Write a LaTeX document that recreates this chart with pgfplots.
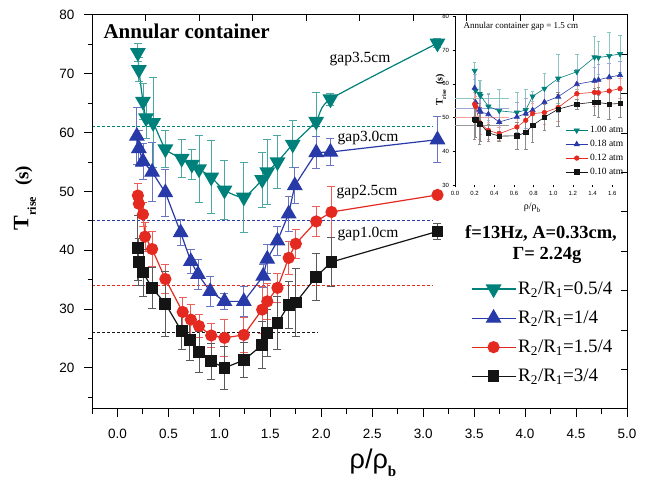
\documentclass[border=0pt]{standalone}
\usepackage{fontspec}
\setmainfont{Liberation Serif}
\newfontfamily\arial{Liberation Sans}
\usepackage{pgfplots}
\usepackage{pgfplotstable}
\pgfplotsset{compat=1.18}

\definecolor{cteal}{RGB}{0,128,122}
\definecolor{cblue}{RGB}{40,58,168}
\definecolor{cred}{RGB}{228,42,32}
\definecolor{cblk}{RGB}{20,20,20}

% main panel: x = rho/rho_b, y = T_rise (s), e = error
\pgfplotstableread{
x y e
0.20 73.6 1.5
0.21 70.7 2.0
0.25 65.3 3.0
0.28 62.5 3.5
0.35 61.7 7.7
0.47 57.2 3.2
0.63 55.6 3.2
0.73 54.6 2.5
0.80 53.8 5.7
0.92 52.4 6.2
1.05 50.2 5.0
1.24 49.0 6.0
1.42 52.0 4.7
1.47 53.3 5.5
1.57 55.0 4.5
1.72 58.0 4.0
1.95 61.9 5.0
2.09 65.7 1.0
3.14 75.2 0.8
}\gapA
\pgfplotstableread{
x y e
0.19 59.4 4.8
0.21 57.3 3.0
0.25 55.1 3.0
0.34 53.3 5.0
0.47 49.8 4.0
0.62 43.0 2.2
0.72 38.1 2.0
0.79 35.9 2.5
0.91 33.0 2.5
1.05 31.3 1.3
1.24 31.3 2.6
1.43 35.6 2.0
1.47 38.5 2.5
1.57 41.6 2.5
1.68 46.2 3.0
1.74 51.0 3.0
1.95 56.6 2.7
2.09 56.7 2.3
3.14 58.8 3.9
}\gapB
\pgfplotstableread{
x y e
0.20 49.3 2.0
0.21 47.9 2.0
0.25 46.1 2.0
0.27 42.3 2.5
0.34 40.2 3.0
0.47 35.1 2.5
0.64 29.5 2.5
0.72 28.2 2.5
0.80 27.1 2.0
0.92 25.5 2.0
1.05 25.1 3.2
1.24 25.6 3.0
1.42 29.9 4.0
1.47 31.3 3.0
1.57 33.6 2.5
1.68 38.7 2.8
1.75 41.1 2.5
1.95 44.9 2.5
2.10 46.5 4.4
3.14 49.4 0.5
}\gapC
\pgfplotstableread{
x y e
0.20 40.4 5.5
0.21 38.0 4.0
0.25 36.2 4.0
0.34 33.6 3.5
0.47 30.9 5.5
0.63 26.2 3.0
0.71 24.7 3.5
0.80 22.7 3.5
0.92 21.1 3.0
1.05 20.0 3.7
1.24 21.3 3.0
1.42 23.9 4.0
1.47 25.9 4.0
1.57 27.6 4.5
1.68 30.7 4.0
1.75 31.1 5.8
1.95 35.5 4.0
2.10 38.0 4.2
3.14 43.2 1.3
}\gapD

% inset: gap 1.5 cm at four pressures
\pgfplotstableread{
x y e
0.20 63.9 2.5
0.21 58.0 5.0
0.25 57.0 4.0
0.26 56.5 4.5
0.34 53.3 4.0
0.45 52.0 6.5
0.63 51.5 6.0
0.72 52.3 6.0
0.79 56.3 1.5
0.91 58.6 4.5
1.05 61.6 7.3
1.24 63.6 5.3
1.42 67.9 6.3
1.46 67.8 5.0
1.57 68.3 7.0
1.68 68.9 5.5
}\inA
\pgfplotstableread{
x y e
0.20 58.8 4.0
0.21 54.5 4.0
0.25 52.3 4.0
0.26 51.7 4.0
0.34 51.0 6.0
0.45 48.7 4.0
0.63 50.2 4.5
0.72 51.2 4.5
0.79 52.2 4.0
0.91 54.6 4.0
1.05 56.2 4.5
1.24 59.9 4.5
1.42 60.9 4.0
1.46 61.2 4.5
1.57 62.0 4.0
1.68 62.6 4.0
}\inB
\pgfplotstableread{
x y e
0.20 54.0 3.5
0.21 53.3 3.0
0.25 48.5 5.0
0.26 48.2 3.0
0.34 46.2 2.5
0.45 45.2 2.0
0.63 47.2 3.0
0.72 49.2 3.5
0.79 51.2 3.0
0.91 51.5 3.5
1.05 53.0 4.0
1.24 57.1 3.5
1.42 57.5 4.0
1.46 57.4 3.5
1.57 57.9 3.5
1.68 58.6 3.0
}\inC
\pgfplotstableread{
x y e
0.20 49.5 6.0
0.21 49.3 5.0
0.25 48.2 6.0
0.26 48.0 5.0
0.34 45.5 2.5
0.45 44.5 1.5
0.63 44.6 4.0
0.72 45.6 5.0
0.79 47.7 5.0
0.91 50.1 4.0
1.05 52.5 5.0
1.24 54.0 1.5
1.42 54.6 4.0
1.46 54.5 4.5
1.57 54.0 4.5
1.68 54.2 4.0
}\inD

\pgfplotsset{
  ebar/.style={error bars/.cd, y dir=both, y explicit,
    error bar style={line width=0.9pt, #1},
    error mark options={rotate=90, line width=0.9pt, mark size=4pt, #1}},
  ebarsmall/.style={error bars/.cd, y dir=both, y explicit,
    error bar style={line width=0.5pt, #1},
    error mark options={rotate=90, line width=0.5pt, mark size=1.8pt, #1}},
}

\begin{document}
\begin{tikzpicture}
\useasboundingbox (0pt,0pt) rectangle (647pt,484pt);

% main axis
\begin{axis}[
  at={(92pt,75pt)}, anchor=south west, scale only axis,
  width=535pt, height=394pt,
  xmin=-0.25, xmax=5, ymin=13, ymax=80,
  xtick={0,0.5,...,5}, minor xtick={-0.25,0.25,...,4.8},
  ytick={20,30,...,80}, minor ytick={15,25,...,75},
  xtick pos=left, ytick pos=left, tick align=outside,
  major tick length=8pt, minor tick length=4.5pt,
  every tick/.style={black, line width=1pt},
  axis line style={line width=1pt},
  /pgf/number format/assume math mode=true,
  tick label style={font=\arial\fontsize{13.5}{13.5}\selectfont},
  xticklabel style={yshift=-9pt, /pgf/number format/fixed, /pgf/number format/fixed zerofill, /pgf/number format/precision=1},
  yticklabel style={xshift=-6pt},
  legend image code/.code={\draw[mark repeat=2, mark phase=2, #1] plot coordinates {(0pt,0pt) (22pt,0pt) (44pt,0pt)};},
  legend style={at={(rel axis cs:0.708,0.328)}, anchor=north west, draw=none, fill=none,
    font=\fontsize{19}{20}\selectfont, row sep=11pt, inner sep=0pt},
  legend cell align=left,
]
\addplot[forget plot, cteal, line width=0.9pt, dash pattern=on 3pt off 2pt] coordinates {(-0.25,61) (3.1,61)};
\addplot[forget plot, cblue, line width=0.9pt, dash pattern=on 3pt off 2pt] coordinates {(-0.25,45) (3.1,45)};
\addplot[forget plot, cred, line width=0.9pt, dash pattern=on 3pt off 2pt] coordinates {(-0.25,34) (3.1,34)};
\addplot[forget plot, cblk, line width=0.9pt, dash pattern=on 3pt off 2pt] coordinates {(-0.25,26) (1.97,26)};

\addplot[cteal, line width=1.2pt, smooth, tension=0.35, mark=triangle*, mark size=8pt,
  mark options={rotate=180, solid}, ebar=cteal!70] table[x=x, y=y, y error=e] {\gapA};
\addlegendentry{R\textsubscript{2}/R\textsubscript{1}=0.5/4}
\addplot[cblue, line width=1.2pt, mark=triangle*, mark size=8pt,
  mark options={solid}, ebar=cblue!70] table[x=x, y=y, y error=e] {\gapB};
\addlegendentry{R\textsubscript{2}/R\textsubscript{1}=1/4}
\addplot[cred, line width=1.2pt, mark=*, mark size=5.5pt,
  mark options={solid}, ebar=cred!75] table[x=x, y=y, y error=e] {\gapC};
\addlegendentry{R\textsubscript{2}/R\textsubscript{1}=1.5/4}
\addplot[cblk, line width=1.2pt, mark=square*, mark size=5.3pt,
  mark options={solid}, ebar=black!65] table[x=x, y=y, y error=e] {\gapD};
\addlegendentry{R\textsubscript{2}/R\textsubscript{1}=3/4}
\end{axis}

% top and right axes with their own inward ticks
\begin{axis}[
  at={(92pt,75pt)}, anchor=south west, scale only axis,
  width=535pt, height=394pt,
  xmin=0, xmax=10, ymin=0, ymax=10,
  xtick={1,...,9}, ytick={1,...,9},
  xtick pos=right, ytick pos=right, tick align=inside,
  xticklabels={}, yticklabels={},
  major tick length=6pt,
  every tick/.style={black, line width=1pt},
  axis line style={line width=1pt},
]
\end{axis}

% inset
\begin{axis}[
  at={(455pt,299pt)}, anchor=south west, scale only axis,
  width=167pt, height=168.5pt,
  xmin=0, xmax=1.7, ymin=30, ymax=80,
  xtick={0,0.2,...,1.6}, ytick={30,40,...,80},
  xtick pos=left, ytick pos=left, tick align=outside,
  major tick length=2.5pt,
  every tick/.style={black, line width=0.6pt},
  axis line style={draw=none},
  /pgf/number format/assume math mode=true,
  tick label style={font=\arial\fontsize{6}{6}\selectfont},
  xticklabel style={/pgf/number format/fixed, /pgf/number format/fixed zerofill, /pgf/number format/precision=1},
  legend image code/.code={\draw[mark repeat=2, mark phase=2, #1] plot coordinates {(0pt,0pt) (11pt,0pt) (22pt,0pt)};},
  legend style={at={(rel axis cs:0.66,0.36)}, anchor=north west, draw=none, fill=none,
    font=\fontsize{9.5}{10}\selectfont, row sep=2pt, inner sep=0pt},
  legend cell align=left,
]
\draw[line width=0.8pt] (rel axis cs:0,1) -- (rel axis cs:0,0) -- (rel axis cs:1,0);
\addplot[forget plot, cteal!45, line width=0.5pt] coordinates {(0,55.8) (0.55,55.8)};
\addplot[forget plot, cblue!45, line width=0.5pt] coordinates {(0,52.8) (0.55,52.8)};
\addplot[forget plot, cred!45, line width=0.5pt] coordinates {(0,50.2) (0.55,50.2)};
\addplot[forget plot, black!40, line width=0.5pt] coordinates {(0,47.7) (0.55,47.7)};

\addplot[cteal, line width=0.6pt, mark=triangle*, mark size=3pt,
  mark options={rotate=180, solid}, ebarsmall=cteal!45] table[x=x, y=y, y error=e] {\inA};
\addlegendentry{1.00 atm}
\addplot[cblue, line width=0.6pt, mark=triangle*, mark size=3pt,
  mark options={solid}, ebarsmall=cblue!45] table[x=x, y=y, y error=e] {\inB};
\addlegendentry{0.18 atm}
\addplot[cred, line width=0.6pt, mark=*, mark size=2.3pt,
  mark options={solid}, ebarsmall=cred!45] table[x=x, y=y, y error=e] {\inC};
\addlegendentry{0.12 atm}
\addplot[cblk, line width=0.6pt, mark=square*, mark size=2.2pt,
  mark options={solid}, ebarsmall=black!45] table[x=x, y=y, y error=e] {\inD};
\addlegendentry{0.10 atm}
\end{axis}

% labels and annotations
\node[rotate=90, font=\bfseries] at (25pt,286pt)
  {\fontsize{22}{22}\selectfont T\raisebox{-0.35em}{\fontsize{12}{12}\selectfont rise}\ \ \fontsize{19}{19}\selectfont(s)};
\node[font=\arial\fontsize{27}{27}\selectfont] at (373pt,21pt) {ρ/ρ\raisebox{-0.3em}{\rmfamily\bfseries\fontsize{15}{15}\selectfont b}};
\node[anchor=west, font=\bfseries\fontsize{21}{21}\selectfont] at (100pt,453pt) {Annular container};
\node[font=\fontsize{15.5}{15.5}\selectfont] at (360pt,425pt) {gap3.5cm};
\node[font=\fontsize{15.5}{15.5}\selectfont] at (368pt,346pt) {gap3.0cm};
\node[font=\fontsize{15.5}{15.5}\selectfont] at (367pt,292pt) {gap2.5cm};
\node[font=\fontsize{15.5}{15.5}\selectfont] at (368pt,250pt) {gap1.0cm};
\node[font=\bfseries\fontsize{18.5}{18.5}\selectfont] at (541pt,251pt) {f=13Hz, A=0.33cm,};
\node[font=\bfseries\fontsize{18.5}{18.5}\selectfont] at (547pt,229pt) {Γ= 2.24g};

% inset labels
\node[rotate=90, font=\bfseries] at (441pt,394pt)
  {\fontsize{10}{10}\selectfont T\raisebox{-0.35em}{\fontsize{6}{6}\selectfont rise}\ \ (s)};
\node[font=\fontsize{10}{10}\selectfont] at (532pt,276pt) {ρ/ρ\raisebox{-0.3em}{\fontsize{7}{7}\selectfont b}};
\node[anchor=west, font=\fontsize{9}{9}\selectfont] at (460pt,458pt) {Annular container gap = 1.5 cm};
\end{tikzpicture}
\end{document}
